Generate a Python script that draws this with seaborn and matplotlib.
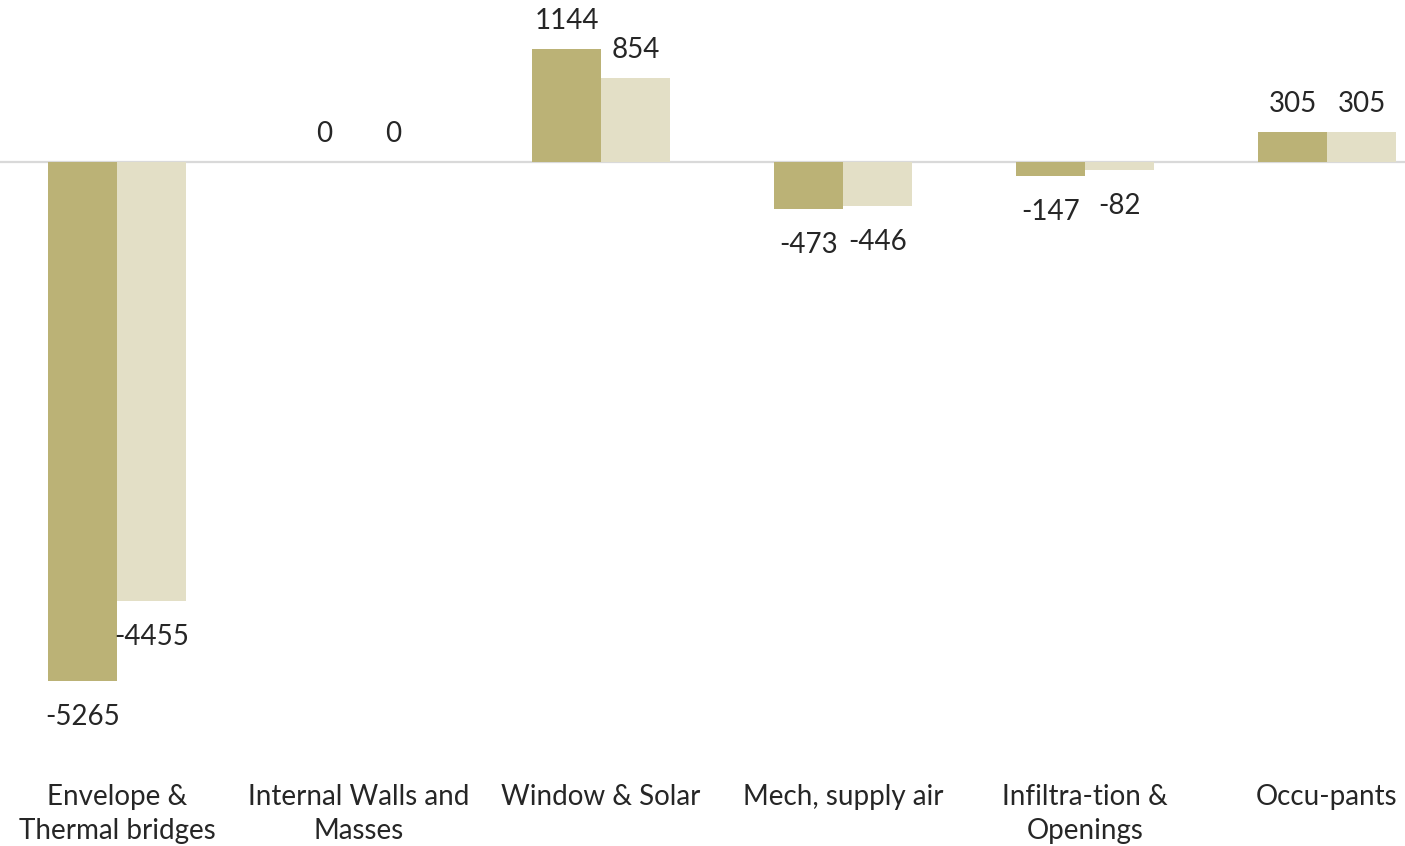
import matplotlib
matplotlib.use("Agg")
import matplotlib.pyplot as plt
import seaborn as sns
import pandas as pd

categories = ["Envelope &\nThermal bridges", "Internal Walls and\nMasses", "Window & Solar",
              "Mech, supply air", "Infiltra-tion &\nOpenings", "Occu-pants"]
series_names = ["Case 1", "Case 2"]
series_1 = [-5265, 0, 1144, -473, -147, 305]
series_2 = [-4455, 0, 854, -446, -82, 305]
colors = ["#BBB276", "#E3DFC6"]

rows = []
for name, vals in zip(series_names, [series_1, series_2]):
    for c, v in zip(categories, vals):
        rows.append({"category": c, "series": name, "value": v})
df = pd.DataFrame(rows)

sns.set_theme(style="white")
plt.rcParams["font.family"] = ["Lato", "DejaVu Sans"]

W, H = 1405, 846
fig = plt.figure(figsize=(W / 100, H / 100), dpi=100)
ax_bottom_px = 760
ax = fig.add_axes([0, 1 - ax_bottom_px / H, 1, ax_bottom_px / H])

sns.barplot(data=df, x="category", y="value", hue="series", order=categories,
            hue_order=series_names, palette=colors, width=0.57, gap=0,
            saturation=1, errorbar=None, legend=False, linewidth=0, ax=ax)

px_per_unit = 0.0985
zero_px = 162
ax.set_ylim(-(ax_bottom_px - zero_px) / px_per_unit, zero_px / px_per_unit)
ax.set_xlim(-0.5 + 4 / 242, 5.5 - 43 / 242)

ax.axhline(0, color="#D9D9D9", lw=1.6, zorder=0.5)

fs = 20
for cont in ax.containers:
    for bar, val in zip(cont, cont.datavalues):
        x = bar.get_x() + bar.get_width() / 2
        dy = -36 * 0.72 if val < 0 else 28 * 0.72
        ax.annotate(f"{int(val)}", (x, val), xytext=(0, dy), textcoords="offset points",
                    ha="center", va="center", fontsize=fs, color="#262626")

for s in ax.spines.values():
    s.set_visible(False)
ax.set_yticks([])
ax.set_xlabel("")
ax.set_ylabel("")
ax.tick_params(axis="x", length=0, pad=17.5, labelsize=fs, labelcolor="#262626")
for lbl in ax.get_xticklabels():
    lbl.set_linespacing(1.38)

fig.savefig("out.png", dpi=100)
